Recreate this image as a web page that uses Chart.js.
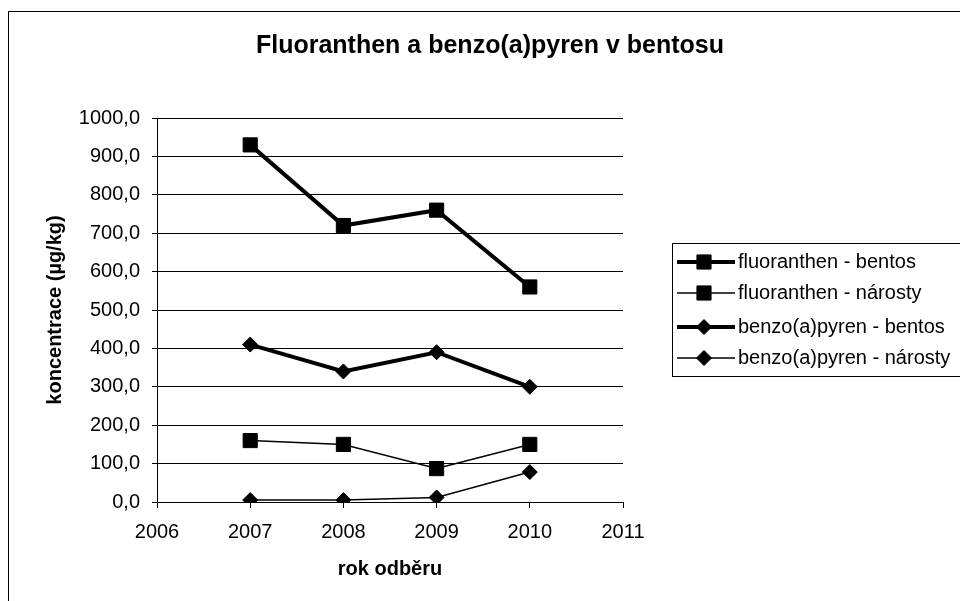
<!DOCTYPE html>
<html>
<head>
<meta charset="utf-8">
<script src="https://cdn.jsdelivr.net/npm/chart.js@4/dist/chart.umd.min.js"></script>
<style>
  html, body { margin: 0; padding: 0; background: #fff; }
  #wrap { width: 960px; height: 601px; position: relative; }
</style>
</head>
<body>
<div id="wrap"><canvas id="rok_chart"></canvas></div>
<script>
// values
const years = [2007, 2008, 2009, 2010];
const fluoranthen_bentos = [930, 720, 760, 560];
const fluoranthen_narosty = [160, 150, 87, 150];
const benzo_bentos = [410, 340, 390, 300];
const benzo_narosty = [5, 5, 12, 78];
const series_labels = [
	'fluoranthen - bentos',
	'fluoranthen - nárosty',
	'benzo(a)pyren - bentos',
	'benzo(a)pyren - nárosty'
];
const chart_title = 'Fluoranthen a benzo(a)pyren v bentosu';
const y_title = 'koncentrace (µg/kg)';
const x_title = 'rok odběru';

const FONT = "'Liberation Sans', Arial, sans-serif";
Chart.defaults.font.family = FONT;
Chart.defaults.color = '#000';

function toPoints(values){
	var pts = [];
	for (var i = 0; i < years.length; i++) {
		pts.push({x: years[i], y: values[i]});
	}
	return pts;
}

function makeDataset(label, values, thick, style){
	return {
		label: label,
		data: toPoints(values),
		borderColor: '#000',
		backgroundColor: '#000',
		borderWidth: thick ? 4 : 1.5,
		pointStyle: style,
		pointRadius: style == 'rect' ? 10 : 7.5,
		pointHoverRadius: style == 'rect' ? 10 : 7.5,
		pointBorderWidth: 1,
		pointBackgroundColor: '#000',
		pointBorderColor: '#000',
		tension: 0
	};
}

// draws the outer frame and the boxed legend on the right
const frameAndLegend = {
	id: 'frameAndLegend',
	afterDraw(chart){
		const ctx = chart.ctx;
		ctx.save();
		ctx.strokeStyle = '#000';
		ctx.lineWidth = 1;
		ctx.strokeRect(8.5, 11.5, 1000, 1000);

		const left = 672, top = 243, bottom = 376;
		ctx.strokeRect(left + 0.5, top + 0.5, 400, bottom - top);

		const rows = [262, 293, 327, 358];
		chart.data.datasets.forEach(function(ds, i){
			const y = rows[i];
			ctx.beginPath();
			ctx.lineWidth = ds.borderWidth;
			ctx.strokeStyle = '#000';
			ctx.moveTo(677, y);
			ctx.lineTo(735, y);
			ctx.stroke();
			ctx.fillStyle = '#000';
			ctx.lineWidth = 1;
			Chart.helpers.drawPoint(ctx, {
				pointStyle: ds.pointStyle,
				radius: ds.pointRadius,
				rotation: 0,
				borderWidth: 1
			}, 704, y);
			ctx.font = '20px ' + FONT;
			ctx.textBaseline = 'middle';
			ctx.textAlign = 'left';
			ctx.fillText(ds.label, 738, y);
		});
		ctx.restore();
	}
};

const ctx = document.getElementById('rok_chart').getContext('2d');
const rok_chart = new Chart(ctx, {
	type: 'line',
	data: {
		datasets: [
			makeDataset(series_labels[0], fluoranthen_bentos, true, 'rect'),
			makeDataset(series_labels[1], fluoranthen_narosty, false, 'rect'),
			makeDataset(series_labels[2], benzo_bentos, true, 'rectRot'),
			makeDataset(series_labels[3], benzo_narosty, false, 'rectRot')
		]
	},
	options: {
		responsive: true,
		maintainAspectRatio: false,
		animation: false,
		layout: {
			padding: {left: 20, right: 0, top: 0, bottom: 0}
		},
		scales: {
			x: {
				type: 'linear',
				min: 2006,
				max: 2011,
				grid: {
					drawOnChartArea: false,
					color: '#000',
					tickLength: 6
				},
				border: {color: '#000'},
				ticks: {
					stepSize: 1,
					padding: 12,
					font: {size: 20},
					callback: function(value){ return String(value); }
				},
				title: {
					display: true,
					text: x_title,
					font: {size: 20, weight: 'bold'},
					padding: {top: 4, bottom: 20}
				},
				afterFit: function(scale){ scale.height = 99; }
			},
			y: {
				min: 0,
				max: 1000,
				grid: {
					color: '#000',
					tickLength: 5
				},
				border: {color: '#000'},
				ticks: {
					stepSize: 100,
					padding: 12,
					font: {size: 20},
					callback: function(value){ return value.toFixed(1).replace('.', ','); }
				},
				title: {
					display: true,
					text: y_title,
					font: {size: 20, weight: 'bold'},
					padding: {top: 23, bottom: 0}
				},
				afterFit: function(scale){ scale.width = 137; }
			},
			// empty axis that holds the room for the legend
			legendRoom: {
				type: 'linear',
				position: 'right',
				display: true,
				grid: {display: false, drawTicks: false},
				border: {display: false},
				ticks: {display: false},
				afterFit: function(scale){ scale.width = 337; }
			}
		},
		plugins: {
			legend: {display: false},
			tooltip: {enabled: false},
			title: {
				display: true,
				text: chart_title,
				fullSize: true,
				font: {size: 25, weight: 'bold'},
				color: '#000',
				padding: {top: 31, bottom: 57}
			}
		}
	},
	plugins: [frameAndLegend]
});
</script>
</body>
</html>
